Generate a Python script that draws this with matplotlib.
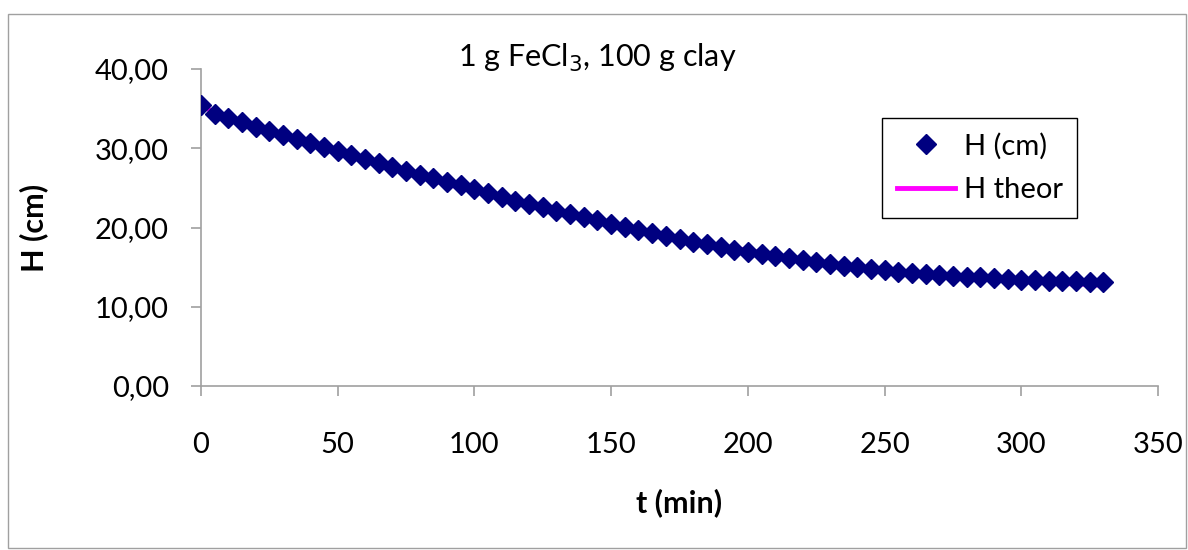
import numpy as np
import matplotlib
matplotlib.use("Agg")
import matplotlib.pyplot as plt
from matplotlib.patches import Rectangle

# time (min) and measured / theoretical height (cm)
t_min = list(range(0, 335, 5))
h_cm = [35.4, 34.3, 33.8, 33.3, 32.7, 32.2, 31.7, 31.2, 30.6, 30.1,
        29.6, 29.1, 28.6, 28.1, 27.6, 27.1, 26.6, 26.2, 25.7, 25.3,
        24.8, 24.4, 23.9, 23.4, 23.0, 22.6, 22.1, 21.7, 21.3, 20.9,
        20.5, 20.1, 19.7, 19.3, 18.9, 18.5, 18.2, 17.9, 17.5, 17.2,
        16.9, 16.6, 16.4, 16.1, 15.9, 15.6, 15.4, 15.2, 15.0, 14.8,
        14.6, 14.4, 14.3, 14.1, 14.0, 13.9, 13.8, 13.7, 13.6, 13.5,
        13.4, 13.4, 13.3, 13.2, 13.2, 13.1, 13.1]
h_theor = [35.4, 34.5, 34.0, 33.4, 32.8, 32.2, 31.6, 31.0, 30.5, 29.9,
           29.4, 28.9, 28.4, 27.9, 27.4, 26.9, 26.4, 25.9, 25.5, 25.0,
           24.6, 24.1, 23.7, 23.2, 22.8, 22.4, 22.0, 21.6, 21.2, 20.8,
           20.4, 20.0, 19.6, 19.3, 18.9, 18.6, 18.3, 18.0, 17.7, 17.4,
           17.1, 16.8, 16.5, 16.3, 16.0, 15.8, 15.5, 15.3, 15.1, 14.9,
           14.7, 14.5, 14.3, 14.1, 14.0, 13.8, 13.7, 13.5, 13.4, 13.3,
           13.2, 13.1, 13.0, 12.9, 12.9, 12.8, 12.7]

plt.rcParams['font.family'] = ['Lato', 'DejaVu Sans']

fig = plt.figure(figsize=(11.88, 5.5), dpi=100)
ax = fig.add_axes([201/1188, 1-386/550, 957/1188, 317/550])

# outer chart border
fig.patches.append(Rectangle((8/1188, 2/550), 1178/1188, 534/550, transform=fig.transFigure,
                             fill=False, edgecolor="#a0a0a0", linewidth=1))

ax.plot(t_min, h_theor, color="#ff00ff", linewidth=3.5, label="H theor", zorder=2)
ax.plot(t_min, h_cm, linestyle="none", marker="D", markersize=10, color="#000080",
        label="H (cm)", zorder=3)

ax.set_xlim(0, 350)
ax.set_ylim(0, 40)
ax.set_xticks(range(0, 351, 50))
ax.set_yticks(range(0, 41, 10))
ax.set_yticklabels([f"{v:.2f}".replace(".", ",") for v in range(0, 41, 10)])

for s in ["top", "right"]:
    ax.spines[s].set_visible(False)
for s in ["left", "bottom"]:
    ax.spines[s].set_color("#a0a0a0")
    ax.spines[s].set_linewidth(1.2)
ax.tick_params(axis="both", colors="#a0a0a0", labelcolor="black", labelsize=21, length=7, width=1.2)
ax.tick_params(axis="x", pad=26)
ax.tick_params(axis="y", pad=16)

ax.set_xlabel("t (min)", fontsize=22, fontweight="bold", labelpad=22)
ax.set_ylabel("H (cm)", fontsize=22, fontweight="bold", labelpad=34)

fig.text(597/1188, 1-58/550, "1 g FeCl$_3$, 100 g clay", fontsize=22, ha="center", va="center")

handles, labels = ax.get_legend_handles_labels()
leg = ax.legend(handles[::-1], labels[::-1], loc="upper left",
                bbox_to_anchor=((882-201)/957, (386-118)/317), fontsize=21,
                frameon=True, fancybox=False, edgecolor="black", framealpha=1,
                borderaxespad=0, handlelength=2.0, handletextpad=0.3,
                borderpad=0.5, labelspacing=0.6)
leg.get_frame().set_linewidth(1)

fig.savefig("out.png", dpi=100, facecolor="white")
